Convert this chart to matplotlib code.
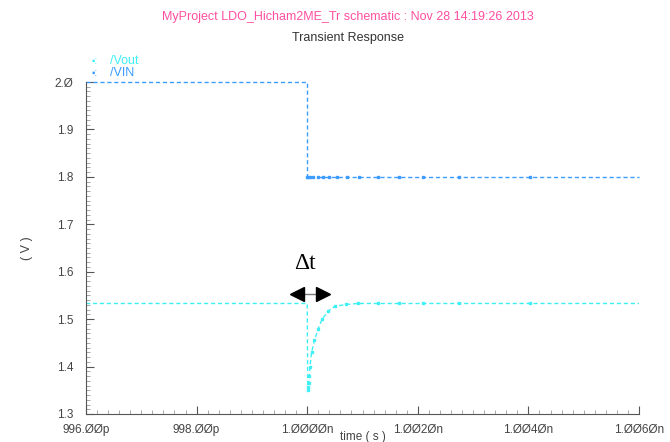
import numpy as np
import matplotlib
matplotlib.use("Agg")
import matplotlib.pyplot as plt

# Tiempos en ps
t_vin = [996.0, 1000.0, 1000.0, 1000.02, 1000.05, 1000.1, 1000.2, 1000.29, 1000.4,
         1000.54, 1000.72, 1000.94, 1001.28, 1001.66, 1002.1, 1002.75, 1004.03, 1006.0]
vin = [2.0, 2.0, 1.8, 1.8, 1.8, 1.8, 1.8, 1.8, 1.8,
       1.8, 1.8, 1.8, 1.8, 1.8, 1.8, 1.8, 1.8, 1.8]

t_vout = [996.0, 1000.0, 1000.01, 1000.02, 1000.03, 1000.04, 1000.05, 1000.08, 1000.13,
          1000.2, 1000.27, 1000.38, 1000.5, 1000.71, 1000.92, 1001.28, 1001.66,
          1002.1, 1002.75, 1004.03, 1006.0]
vout = [1.533, 1.533, 1.351, 1.356, 1.366, 1.38, 1.40, 1.43, 1.455,
        1.48, 1.50, 1.517, 1.527, 1.531, 1.533, 1.533, 1.533,
        1.533, 1.533, 1.533, 1.533]

xticks = [996, 998, 1000, 1002, 1004, 1006]
xtick_labels = ["996.ØØp", "998.ØØp", "1.ØØØØn", "1.ØØ2Øn", "1.ØØ4Øn", "1.ØØ6Øn"]
yticks = [1.3, 1.4, 1.5, 1.6, 1.7, 1.8, 1.9, 2.0]
ytick_labels = ["1.3", "1.4", "1.5", "1.6", "1.7", "1.8", "1.9", "2.Ø"]

c_vout = "#3ef0f5"
c_vin = "#3c9cff"
gris = "#555555"

plt.rcParams["font.family"] = ["Liberation Sans", "DejaVu Sans"]

fig = plt.figure(figsize=(6.7, 4.42), dpi=100)
ax = fig.add_axes([86 / 670, 1 - 414 / 442, (639 - 86) / 670, (414 - 82) / 442])

dash = (0, (3, 2))
ax.plot(t_vout, vout, color=c_vout, lw=1, ls=dash, marker="s", ms=2,
        markevery=slice(2, 20), clip_on=False)
ax.plot(t_vin, vin, color=c_vin, lw=1, ls=dash, marker="s", ms=2,
        markevery=slice(2, 17), clip_on=False)

ax.set_xlim(996, 1006)
ax.set_ylim(1.3, 2.0)
ax.set_xticks(xticks)
ax.set_xticklabels(xtick_labels)
ax.set_yticks(yticks)
ax.set_yticklabels(ytick_labels)
ax.set_xticks(np.arange(996, 1006.01, 0.2), minor=True)
ax.set_yticks(np.arange(1.3, 2.001, 0.01), minor=True)
ax.tick_params(which="major", direction="in", length=6, width=0.8, color=gris,
               labelsize=8.5, labelcolor="#444444")
ax.tick_params(which="minor", direction="in", length=3, width=0.6, color="#999999")
ax.tick_params(axis="y", pad=9)
ax.tick_params(axis="x", pad=7)
for s in ["top", "right"]:
    ax.spines[s].set_visible(False)
for s in ["left", "bottom"]:
    ax.spines[s].set_color(gris)
    ax.spines[s].set_linewidth(0.8)

ax.set_xlabel("time ( s )", fontsize=8.5, color="#444444")
ax.xaxis.set_label_coords(0.5, -(437 - 414) / (414 - 82), transform=ax.transAxes)
ax.xaxis.label.set_va("center")
ax.set_ylabel("( V )", fontsize=9, color="#444444", labelpad=16)

# Anotación Δt
ax.plot([999.81, 1000.29], [1.553, 1.553], color="#777777", lw=1)
ax.plot([999.81], [1.553], marker="<", ms=10, color="black", ls="none")
ax.plot([1000.29], [1.553], marker=">", ms=10, color="black", ls="none")
ax.text(999.96, 1.617, "Δt", fontsize=17, family="Liberation Serif",
        ha="center", va="center", color="black")

# Títulos y leyenda
fig.text(348 / 670, 1 - 17 / 442, "MyProject LDO_Hicham2ME_Tr schematic : Nov 28 14:19:26 2013",
         ha="center", va="center", fontsize=9, color="#ff4fa0")
fig.text(348 / 670, 1 - 38 / 442, "Transient Response", ha="center", va="center",
         fontsize=9, color="#333333")
fig.text(92 / 670, 1 - 61 / 442, "▪:", ha="left", va="center", fontsize=7, color=c_vout)
fig.text(110 / 670, 1 - 61 / 442, "/Vout", ha="left", va="center", fontsize=9, color=c_vout)
fig.text(92 / 670, 1 - 73 / 442, "▪:", ha="left", va="center", fontsize=7, color=c_vin)
fig.text(110 / 670, 1 - 73 / 442, "/VIN", ha="left", va="center", fontsize=9, color=c_vin)

fig.savefig("out.png", dpi=100)
